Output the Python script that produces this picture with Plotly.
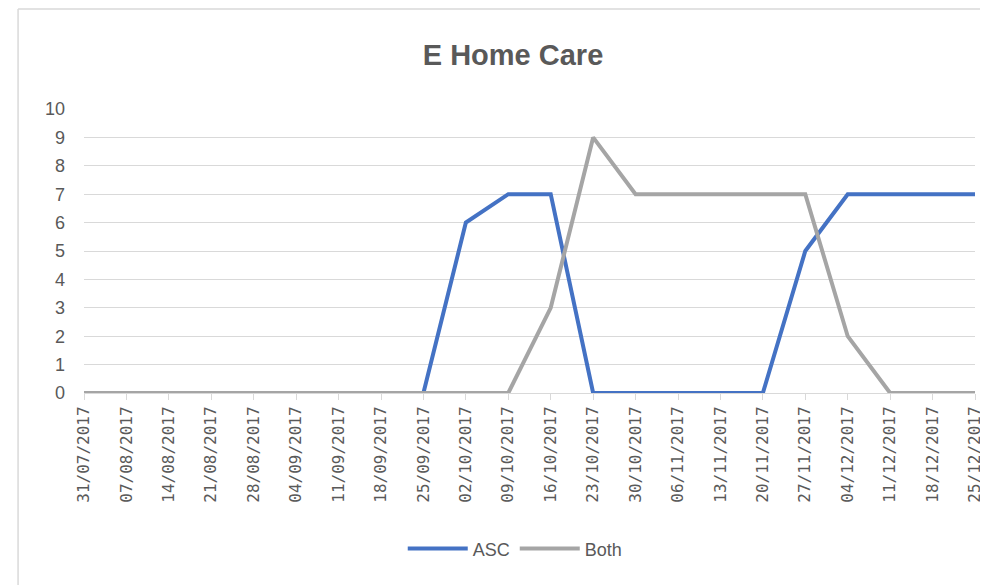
import plotly.graph_objects as go

# weekly dates on the category axis
dates = ["31/07/2017", "07/08/2017", "14/08/2017", "21/08/2017", "28/08/2017",
         "04/09/2017", "11/09/2017", "18/09/2017", "25/09/2017", "02/10/2017",
         "09/10/2017", "16/10/2017", "23/10/2017", "30/10/2017", "06/11/2017",
         "13/11/2017", "20/11/2017", "27/11/2017", "04/12/2017", "11/12/2017",
         "18/12/2017", "25/12/2017"]
asc = [0, 0, 0, 0, 0, 0, 0, 0, 0, 6, 7, 7, 0, 0, 0, 0, 0, 5, 7, 7, 7, 7]
both = [0, 0, 0, 0, 0, 0, 0, 0, 0, 0, 0, 3, 9, 7, 7, 7, 7, 7, 2, 0, 0, 0]

txt = "#595959"
grid = "#d9d9d9"

fig = go.Figure()
fig.add_trace(go.Scatter(x=dates, y=asc, mode="lines", name="ASC",
                         line=dict(color="#4472C4", width=4)))
fig.add_trace(go.Scatter(x=dates, y=both, mode="lines", name="Both",
                         line=dict(color="#A5A5A5", width=4)))

# page body adds an 8px offset, margins are compensated for it
fig.update_layout(
    width=988, height=585,
    margin=dict(l=76, r=21, t=101, b=200),
    paper_bgcolor="white", plot_bgcolor="white",
    font=dict(family="Liberation Sans Narrow, Liberation Sans, sans-serif", color=txt),
    title=dict(text="<b>E Home Care</b>", x=0.4815, xref="paper", xanchor="center",
               y=1 - 47 / 585, yref="container", yanchor="middle",
               font=dict(size=29, color=txt, family="Liberation Sans Narrow, Liberation Sans, sans-serif")),
    showlegend=True,
    legend=dict(orientation="h", x=0.484, xanchor="center", y=-0.549, yanchor="middle",
                font=dict(size=18, color=txt), itemwidth=60),
    shapes=[
        dict(type="line", xref="paper", yref="paper", x0=-0.074, x1=1.1, y0=1.352, y1=1.352,
             line=dict(color=grid, width=1.5)),
        dict(type="line", xref="paper", yref="paper", x0=-0.074, x1=-0.074, y0=1.352, y1=-1.2,
             line=dict(color=grid, width=1.5)),
    ],
)
fig.update_xaxes(type="category", range=[0, len(dates) - 1], tickangle=-90,
                 ticks="outside", ticklen=6, tickcolor=grid, showgrid=False,
                 showline=True, linecolor=grid, linewidth=1,
                 tickfont=dict(size=16, color=txt, family="DejaVu Sans Mono, monospace"))
fig.update_yaxes(range=[0, 10], dtick=1, showgrid=True, gridcolor=grid, gridwidth=1,
                 zeroline=False, showline=False, ticks="", ticklabelstandoff=18,
                 tickfont=dict(size=18, color=txt))

fig.write_html("out.html")
